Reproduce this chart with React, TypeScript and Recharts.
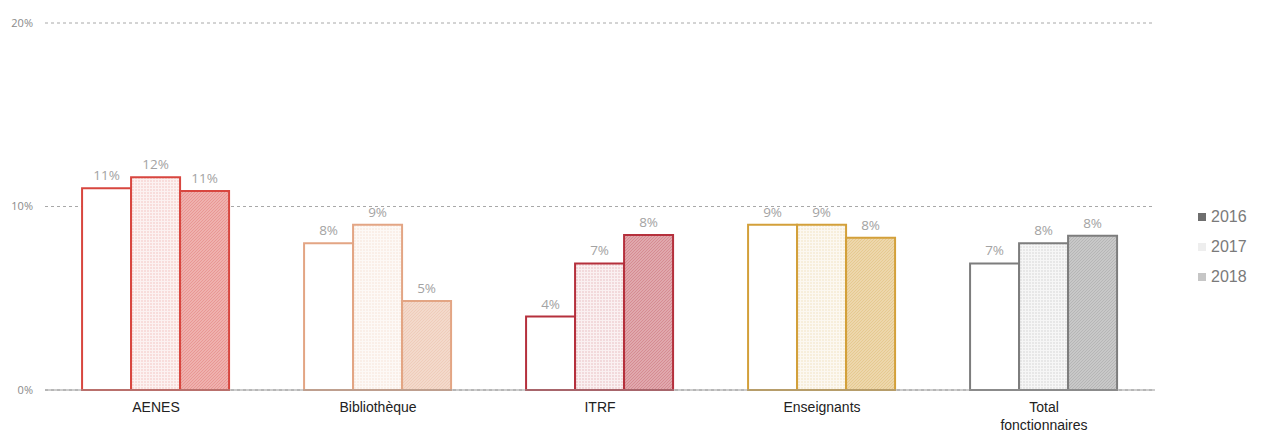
import React from 'react'
import { BarChart, Bar, XAxis, YAxis, CartesianGrid, LabelList, Cell } from 'recharts'

// ── Data ───────────────────────────────────────────────────────────────────

const CATEGORIES = ['AENES', 'Bibliothèque', 'ITRF', 'Enseignants', 'Total fonctionnaires']
const YEARS = ['2016', '2017', '2018']
const V2016 = [11.0, 8.0, 4.0, 9.0, 6.9]
const V2017 = [11.6, 9.0, 6.9, 9.0, 8.0]
const V2018 = [10.85, 4.85, 8.45, 8.3, 8.4]
const Y_TICKS = [0, 10, 20]

// per-category outline colours
const STROKES = ['#d8463f', '#e3a584', '#b5303c', '#d3a03a', '#7d7d7d']
const LEGEND_SWATCH = ['#6e6e6e', '#eeeeee', '#c6c6c6']

const data = CATEGORIES.map((name, i) => ({
  name, y2016: V2016[i], y2017: V2017[i], y2018: V2018[i],
}))

// ── Styles ─────────────────────────────────────────────────────────────────

const FONT = '"Liberation Sans", Arial, sans-serif'
const LABEL_STYLE = { fontSize: 13.5, fill: '#a3a3a3', fontFamily: '"Open Sans", sans-serif' }

function CategoryTick({ x, y, payload }: any) {
  const words: string[] = String(payload.value).split(' ')
  return (
    <text x={x} y={y + 14} textAnchor="middle" fontSize={14} fill="#222" fontFamily={FONT}>
      {words.map((w, i) => (
        <tspan key={i} x={x} dy={i === 0 ? 0 : 18}>{w}</tspan>
      ))}
    </text>
  )
}

export default function App() {
  return (
    <div style={{ position: 'absolute', left: 0, top: 0, width: 1268, height: 436, background: '#fff' }}>
      <BarChart
        width={1268} height={436} data={data}
        margin={{ top: 23, right: 113, bottom: 0, left: 0 }}
        barCategoryGap="16.7%" barGap={0}
      >
        <defs>
          {STROKES.map((c, i) => (
            <pattern key={`d${i}`} id={`dots${i}`} width="3" height="3" patternUnits="userSpaceOnUse">
              <rect width="3" height="3" fill="#fff" />
              <rect width="3" height="3" fill={c} opacity={0.07} />
              <circle cx="1" cy="1" r="0.7" fill={c} opacity={0.35} />
            </pattern>
          ))}
          {STROKES.map((c, i) => (
            <pattern key={`h${i}`} id={`hatch${i}`} width="3" height="3" patternUnits="userSpaceOnUse">
              <rect width="3" height="3" fill="#fff" />
              <rect width="3" height="3" fill={c} opacity={0.42} />
              <path d="M-1,1 l2,-2 M0,3 l3,-3 M2,4 l2,-2" stroke={c} strokeWidth={0.8} opacity={0.3} />
            </pattern>
          ))}
        </defs>
        <CartesianGrid vertical={false} strokeDasharray="3 3" stroke="#a8a8a8" />
        <XAxis
          dataKey="name" tick={<CategoryTick />} tickLine={false} height={46}
          axisLine={{ stroke: '#9a9a9a' }} interval={0}
        />
        <YAxis
          domain={[0, 20]} ticks={Y_TICKS} width={45} axisLine={false} tickLine={false}
          tickMargin={6}
          tick={{ fontSize: 11, fill: '#8a8a8a', fontFamily: '"Open Sans", sans-serif' }}
          tickFormatter={(v) => `${v}%`}
        />
        <Bar dataKey="y2016" isAnimationActive={false} strokeWidth={2}>
          {STROKES.map((c, i) => <Cell key={i} fill="#fff" stroke={c} />)}
          <LabelList dataKey="y2016" position="top" offset={8} style={LABEL_STYLE}
            formatter={(v: any) => `${Math.round(Number(v))}%`} />
        </Bar>
        <Bar dataKey="y2017" isAnimationActive={false} strokeWidth={2}>
          {STROKES.map((c, i) => <Cell key={i} fill={`url(#dots${i})`} stroke={c} />)}
          <LabelList dataKey="y2017" position="top" offset={8} style={LABEL_STYLE}
            formatter={(v: any) => `${Math.round(Number(v))}%`} />
        </Bar>
        <Bar dataKey="y2018" isAnimationActive={false} strokeWidth={2}>
          {STROKES.map((c, i) => <Cell key={i} fill={`url(#hatch${i})`} stroke={c} />)}
          <LabelList dataKey="y2018" position="top" offset={8} style={LABEL_STYLE}
            formatter={(v: any) => `${Math.round(Number(v))}%`} />
        </Bar>
      </BarChart>

      {/* legend */}
      <div style={{ position: 'absolute', left: 1198, top: 202, fontFamily: FONT, fontSize: 16, color: '#7a7a7a' }}>
        {YEARS.map((y, i) => (
          <div key={y} style={{ display: 'flex', alignItems: 'center', height: 30 }}>
            <span style={{ display: 'inline-block', width: 8, height: 8, background: LEGEND_SWATCH[i], marginRight: 5 }} />
            {y}
          </div>
        ))}
      </div>
    </div>
  )
}
